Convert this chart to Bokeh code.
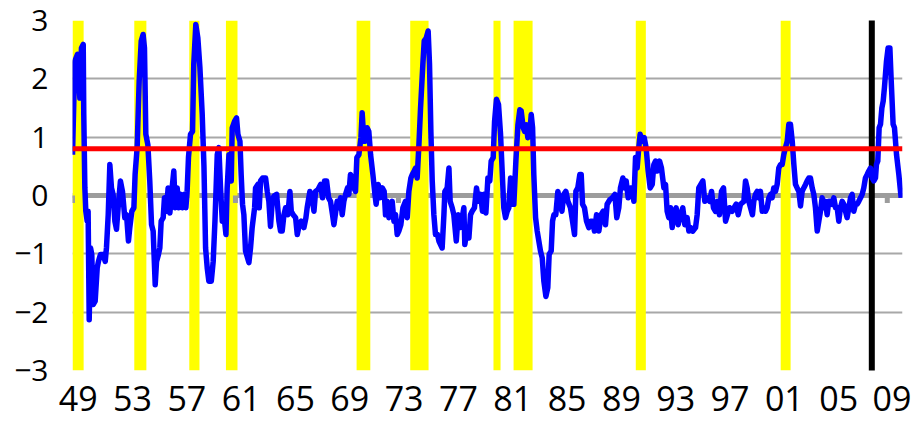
from bokeh.plotting import figure
from bokeh.models import Range1d, FixedTicker, Span
from bokeh.embed import file_html
from bokeh.resources import INLINE

# ---------------- data ----------------
t = [1949.00, 1949.17, 1949.37, 1949.54, 1949.66, 1949.79, 1949.83, 1949.91, 1949.98, 1950.08,
     1950.15, 1950.23, 1950.33, 1950.42, 1950.52, 1950.67, 1950.82, 1950.91, 1951.06, 1951.26,
     1951.41, 1951.50, 1951.63, 1951.75, 1951.87, 1951.99, 1952.12, 1952.24, 1952.36, 1952.53,
     1952.68, 1952.85, 1952.98, 1953.12, 1953.22, 1953.37, 1953.52, 1953.61, 1953.76, 1953.91,
     1954.06, 1954.20, 1954.30, 1954.40, 1954.55, 1954.69, 1954.82, 1954.94, 1955.09, 1955.19,
     1955.33, 1955.43, 1955.53, 1955.68, 1955.77, 1955.92, 1956.04, 1956.17, 1956.31, 1956.46,
     1956.56, 1956.71, 1956.81, 1956.95, 1957.10, 1957.25, 1957.35, 1957.44, 1957.54, 1957.69,
     1957.84, 1957.93, 1958.08, 1958.23, 1958.38, 1958.55, 1958.68, 1958.80, 1958.92, 1959.04,
     1959.22, 1959.36, 1959.49, 1959.66, 1959.78, 1959.90, 1960.03, 1960.15, 1960.30, 1960.39,
     1960.52, 1960.69, 1960.76, 1960.93, 1961.08, 1961.18, 1961.33, 1961.42, 1961.52, 1961.62,
     1961.74, 1961.99, 1962.11, 1962.23, 1962.41, 1962.48, 1962.65, 1962.75, 1962.85, 1963.00,
     1963.22, 1963.34, 1963.46, 1963.58, 1963.71, 1963.83, 1964.03, 1964.20, 1964.32, 1964.44,
     1964.57, 1964.69, 1964.86, 1965.01, 1965.11, 1965.25, 1965.43, 1965.55, 1965.70, 1965.84,
     1966.04, 1966.19, 1966.28, 1966.48, 1966.63, 1966.78, 1966.90, 1967.07, 1967.27, 1967.41,
     1967.56, 1967.71, 1967.86, 1968.00, 1968.15, 1968.25, 1968.49, 1968.62, 1968.74, 1968.86,
     1968.98, 1969.11, 1969.25, 1969.35, 1969.47, 1969.60, 1969.72, 1969.84, 1969.94, 1970.09,
     1970.24, 1970.33, 1970.46, 1970.58, 1970.70, 1970.82, 1970.95, 1971.12, 1971.27, 1971.36,
     1971.51, 1971.63, 1971.81, 1971.95, 1972.05, 1972.17, 1972.30, 1972.42, 1972.54, 1972.67,
     1972.79, 1972.91, 1973.03, 1973.18, 1973.33, 1973.52, 1973.65, 1973.77, 1973.92, 1974.02,
     1974.16, 1974.26, 1974.38, 1974.51, 1974.63, 1974.80, 1974.90, 1975.05, 1975.19, 1975.29,
     1975.39, 1975.49, 1975.61, 1975.73, 1975.88, 1975.98, 1976.10, 1976.22, 1976.35, 1976.42,
     1976.59, 1976.72, 1976.81, 1976.96, 1977.08, 1977.26, 1977.40, 1977.55, 1977.70, 1977.82,
     1977.89, 1978.07, 1978.19, 1978.31, 1978.43, 1978.60, 1978.75, 1978.90, 1979.05, 1979.19,
     1979.29, 1979.44, 1979.59, 1979.73, 1979.83, 1979.98, 1980.08, 1980.22, 1980.37, 1980.52,
     1980.64, 1980.76, 1980.89, 1981.01, 1981.13, 1981.26, 1981.38, 1981.50, 1981.65, 1981.80,
     1981.94, 1982.04, 1982.19, 1982.29, 1982.43, 1982.53, 1982.68, 1982.78, 1982.88, 1982.97,
     1983.10, 1983.22, 1983.34, 1983.46, 1983.59, 1983.71, 1983.86, 1984.00, 1984.10, 1984.25,
     1984.35, 1984.45, 1984.59, 1984.74, 1984.89, 1985.04, 1985.18, 1985.33, 1985.48, 1985.67,
     1985.82, 1985.97, 1986.07, 1986.21, 1986.36, 1986.46, 1986.56, 1986.70, 1986.85, 1987.02,
     1987.15, 1987.29, 1987.44, 1987.59, 1987.76, 1987.93, 1988.08, 1988.25, 1988.37, 1988.57,
     1988.74, 1988.94, 1989.08, 1989.23, 1989.35, 1989.53, 1989.67, 1989.77, 1989.92, 1990.07,
     1990.21, 1990.34, 1990.46, 1990.58, 1990.70, 1990.80, 1990.95, 1991.10, 1991.24, 1991.39,
     1991.54, 1991.69, 1991.81, 1991.93, 1992.05, 1992.23, 1992.37, 1992.55, 1992.67, 1992.79,
     1992.91, 1993.04, 1993.16, 1993.28, 1993.45, 1993.60, 1993.77, 1993.94, 1994.09, 1994.26,
     1994.39, 1994.53, 1994.68, 1994.88, 1995.00, 1995.12, 1995.27, 1995.42, 1995.56, 1995.74,
     1995.91, 1996.06, 1996.20, 1996.35, 1996.50, 1996.64, 1996.79, 1996.94, 1997.09, 1997.23,
     1997.38, 1997.58, 1997.72, 1997.87, 1998.02, 1998.19, 1998.44, 1998.56, 1998.68, 1998.80,
     1998.93, 1999.07, 1999.17, 1999.29, 1999.42, 1999.54, 1999.66, 1999.79, 1999.91, 2000.03,
     2000.15, 2000.28, 2000.40, 2000.52, 2000.64, 2000.77, 2000.89, 2001.01, 2001.14, 2001.26,
     2001.38, 2001.50, 2001.63, 2001.75, 2001.87, 2002.00, 2002.12, 2002.24, 2002.36, 2002.49,
     2002.61, 2002.73, 2002.85, 2002.98, 2003.10, 2003.22, 2003.34, 2003.47, 2003.59, 2003.71,
     2003.84, 2003.96, 2004.08, 2004.20, 2004.33, 2004.45, 2004.57, 2004.69, 2004.82, 2004.94,
     2005.06, 2005.19, 2005.31, 2005.43, 2005.55, 2005.68, 2005.80, 2005.92, 2006.04, 2006.17,
     2006.29, 2006.41, 2006.53, 2006.66, 2006.78, 2006.90, 2007.03, 2007.15, 2007.27, 2007.39,
     2007.52, 2007.64, 2007.76, 2007.89, 2008.01, 2008.13, 2008.20, 2008.30, 2008.40, 2008.50,
     2008.60, 2008.70, 2008.79, 2008.94, 2009.06, 2009.19, 2009.29, 2009.43, 2009.53, 2009.68,
     2009.85, 2010.02]

v = [0.70, 2.30, 2.42, 1.67, 2.53, 2.59, 1.39, 0.13, -0.27, -0.44,
     -0.27, -2.13, -0.90, -1.01, -1.87, -1.81, -1.24, -1.13, -1.01, -1.01,
     -1.13, -0.90, -0.33, 0.53, 0.13, 0.02, -0.44, -0.58, -0.21, 0.25,
     0.07, -0.38, -0.33, -0.78, -0.55, -0.27, -0.21, 0.36, 0.82, 1.96,
     2.65, 2.76, 2.53, 1.05, 0.87, 0.25, -0.50, -0.61, -1.53, -1.13,
     -1.01, -0.90, -0.44, -0.38, -0.04, -0.27, 0.13, -0.30, 0.07, 0.42,
     -0.21, 0.13, -0.21, 0.02, -0.21, 0.02, -0.21, 0.07, 0.65, 1.05,
     1.10, 2.25, 2.93, 2.70, 2.20, 1.40, 0.50, -0.90, -1.24, -1.47,
     -1.47, -1.13, -0.44, 0.70, 0.82, 0.13, -0.44, -0.33, -0.67, 0.13,
     0.70, 0.25, 1.16, 1.27, 1.33, 1.05, 0.93, 0.36, -0.15, -0.33,
     -0.95, -1.15, -0.90, -0.55, -0.21, 0.13, 0.19, -0.21, 0.25, 0.30,
     0.30, 0.07, -0.10, -0.53, -0.10, -0.01, 0.02, -0.44, -0.61, -0.61,
     -0.33, -0.21, -0.33, 0.07, -0.27, -0.33, -0.38, -0.67, -0.50, -0.44,
     -0.55, -0.38, -0.21, 0.07, -0.01, -0.27, 0.07, 0.10, 0.19, -0.04,
     0.25, 0.25, -0.04, -0.10, -0.33, -0.50, -0.10, -0.21, -0.04, -0.33,
     -0.10, 0.02, 0.13, 0.02, 0.36, 0.30, 0.13, 0.07, 0.65, 0.70,
     0.99, 1.42, 0.93, 0.93, 1.16, 1.10, 0.70, 0.36, 0.02, -0.15,
     0.19, -0.04, 0.13, 0.07, -0.33, -0.10, -0.38, -0.21, -0.10, -0.44,
     -0.33, -0.67, -0.61, -0.50, -0.21, -0.10, -0.38, 0.07, 0.30, 0.36,
     0.42, 0.47, 0.30, 0.87, 1.50, 2.25, 2.65, 2.70, 2.82, 2.25,
     1.10, 0.25, -0.33, -0.67, -0.67, -0.78, -0.84, -0.90, -0.33, 0.07,
     0.13, 0.47, -0.10, -0.21, -0.33, -0.78, -0.33, -0.55, -0.38, -0.21,
     -0.84, -0.55, -0.73, -0.33, -0.27, -0.21, 0.13, -0.10, 0.02, -0.27,
     0.02, -0.30, 0.30, 0.25, 0.59, 0.65, 1.27, 1.65, 1.56, 1.05,
     0.42, -0.21, -0.38, -0.27, -0.21, 0.30, -0.15, -0.15, 0.59, 1.21,
     1.47, 1.45, 1.16, 1.10, 1.21, 0.99, 1.10, 1.39, 1.16, 0.36,
     -0.38, -0.61, -0.78, -0.95, -1.07, -1.47, -1.73, -1.58, -1.01, -0.95,
     -0.44, -0.33, -0.33, 0.07, -0.10, -0.27, 0.02, 0.07, -0.10, -0.21,
     -0.44, -0.67, 0.07, 0.13, 0.36, 0.36, -0.15, -0.21, -0.44, -0.55,
     -0.44, -0.44, -0.61, -0.33, -0.61, -0.33, -0.27, -0.50, -0.15, -0.07,
     -0.04, 0.02, -0.38, -0.21, 0.13, 0.30, 0.13, 0.25, -0.04, 0.13,
     0.13, -0.10, 0.65, 0.47, 0.82, 1.05, 0.93, 0.99, 0.82, 0.42,
     0.13, 0.19, 0.53, 0.59, 0.42, 0.59, 0.47, 0.13, 0.19, -0.27,
     -0.38, -0.21, -0.55, -0.33, -0.21, -0.50, -0.33, -0.21, -0.50, -0.38,
     -0.61, -0.55, -0.61, -0.55, -0.33, 0.13, 0.19, 0.25, -0.10, -0.04,
     -0.10, 0.07, -0.21, -0.27, -0.10, -0.33, 0.07, 0.13, -0.44, -0.33,
     -0.21, -0.27, -0.21, -0.15, -0.33, -0.15, -0.10, 0.25, 0.13, -0.10,
     -0.21, -0.33, -0.10, 0.02, 0.07, -0.04, 0.07, -0.27, -0.21, -0.27,
     -0.21, -0.04, 0.02, -0.04, 0.13, 0.07, 0.19, 0.47, 0.53, 0.53,
     0.70, 0.82, 0.93, 1.22, 1.22, 0.93, 0.53, 0.19, 0.13, 0.07,
     -0.18, 0.07, 0.13, 0.19, 0.25, 0.30, 0.30, 0.13, 0.02, -0.21,
     -0.61, -0.44, -0.27, -0.04, -0.21, -0.10, -0.33, -0.10, -0.10, -0.15,
     -0.04, -0.21, -0.21, -0.44, -0.21, -0.10, -0.15, -0.27, -0.38, -0.21,
     -0.04, 0.02, -0.27, -0.15, -0.15, -0.10, -0.04, 0.02, 0.13, 0.30,
     0.36, 0.42, 0.47, 0.30, 0.25, 0.30, 0.53, 0.59, 1.16, 1.22,
     1.50, 1.62, 1.85, 2.30, 2.53, 2.53, 1.96, 1.22, 1.16, 0.70,
     0.36, -0.04]

# recessions (decimal years)
rec_start = [1949.00, 1953.55, 1957.60, 1960.30, 1969.92, 1973.87, 1980.00, 1981.48, 1990.48, 2001.15]
rec_end   = [1949.82, 1954.44, 1958.35, 1961.15, 1970.93, 1975.22, 1980.52, 1982.88, 1991.22, 2001.88]

cycle_peak = [2007.86]          # black vertical line
threshold = 0.8                 # red line
zero_ticks = [1949, 1961, 1973, 1985, 1997, 2009]

x_label_years = list(range(1949, 2010, 4))
x_labels = ["49", "53", "57", "61", "65", "69", "73", "77", "81", "85", "89", "93", "97", "01", "05", "09"]
y_ticks = [-3, -2, -1, 0, 1, 2, 3]
y_labels = ["\u22123", "\u22122", "\u22121", "0", "1", "2", "3"]

# ---------------- figure ----------------
p = figure(width=911, height=424, output_backend="svg", toolbar_location=None,
           x_range=Range1d(1949.0, 2010.12), y_range=Range1d(-3, 3),
           min_border_left=72, min_border_right=9, min_border_top=20, min_border_bottom=54)
p.outline_line_color = None
p.background_fill_color = "white"
p.border_fill_color = "white"

p.xgrid.visible = False
p.ygrid.ticker = FixedTicker(ticks=[tk for tk in y_ticks if tk != 0])
p.ygrid.grid_line_color = "#a8a8a8"
p.ygrid.grid_line_width = 2

# zero line (under the bars)
p.add_layout(Span(location=0, dimension="width", line_color="#9c9c9c", line_width=5, level="underlay"))

# recession bars
p.quad(left=rec_start, right=rec_end, bottom=-3, top=3, fill_color="#FFFF00", line_color=None)

# category-axis tick marks on the zero line
p.segment(x0=zero_ticks, x1=zero_ticks, y0=[0] * len(zero_ticks), y1=[-0.13] * len(zero_ticks),
          line_color="#9c9c9c", line_width=5)

# cycle peak line
p.segment(x0=cycle_peak, x1=cycle_peak, y0=[-3.05], y1=[3.05], line_color="black", line_width=6)

# series
p.line(t, v, line_color="#0000FF", line_width=5.5, line_join="round")

# threshold
p.add_layout(Span(location=threshold, dimension="width", line_color="#FF0000", line_width=5))

# axes
lab_pos = [y + 0.42 for y in x_label_years]
p.xaxis.ticker = FixedTicker(ticks=lab_pos)
p.xaxis.major_label_overrides = {pos: lab for pos, lab in zip(lab_pos, x_labels)}
p.yaxis.ticker = FixedTicker(ticks=y_ticks)
p.yaxis.major_label_overrides = {tk: lab for tk, lab in zip(y_ticks, y_labels)}

for ax in (p.xaxis[0], p.yaxis[0]):
    ax.axis_line_color = None
    ax.major_tick_line_color = None
    ax.minor_tick_line_color = None
    ax.major_tick_out = 0
    ax.major_tick_in = 0
    ax.major_label_text_font = "Open Sans"
    ax.major_label_text_color = "black"

p.xaxis.major_label_text_font_size = "34px"
p.xaxis.major_label_standoff = 15
p.yaxis.major_label_text_font_size = "30px"
p.yaxis.major_label_standoff = 24

open("out.html", "w").write(file_html(p, INLINE))
